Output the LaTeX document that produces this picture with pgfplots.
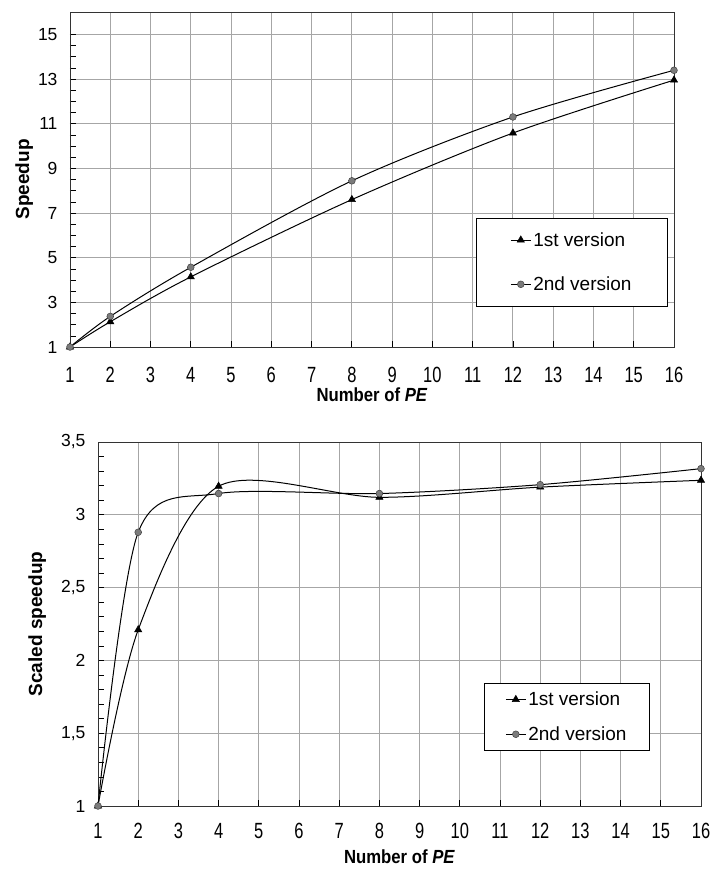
\documentclass[border=0pt]{standalone}
\usepackage{fontspec}
\setmainfont{Liberation Sans}
\newfontfamily\narrowfont{Liberation Sans}[FakeStretch=0.75]
\newfontfamily\labelfont{Liberation Sans}[FakeStretch=0.88]
\usepackage{pgfplots}
\pgfplotsset{compat=1.18}
\begin{document}
\begin{tikzpicture}[x=1pt,y=1pt]
\useasboundingbox (0,0) rectangle (712,870);
\pgfplotsset{
  mybase/.style={
    scale only axis,
    font=\fontsize{19}{22}\selectfont,
    /pgf/number format/assume math mode=true,
    /pgf/number format/use comma,
    xmin=1, xmax=16, xtick={1,...,16},
    xmajorgrids, ymajorgrids,
    grid style={gray!70, line width=0.9pt},
    minor tick style={black, line width=0.6pt},
    major tick style={black, line width=0.8pt},
    major tick length=6pt, minor tick length=6pt,
    tick align=inside,
    xtick pos=left, ytick pos=left,
    axis line style={black!80, line width=0.8pt},
    xticklabel style={font=\narrowfont\fontsize{22}{24}\selectfont, anchor=center},
    yticklabel style={font=\fontsize{17.5}{21}\selectfont, anchor=east, xshift=-9pt},
    xlabel={\labelfont\bfseries Number of \textit{PE}},
    legend cell align=left,
    legend image code/.code={\draw[##1,mark repeat=2,mark phase=2] plot coordinates {(0pt,0pt)(10pt,0pt)(20pt,0pt)};},
  },
  v1/.style={black, line width=1pt, smooth, mark=triangle*, mark size=4.2pt, mark options={fill=black, draw=black, line width=0.5pt}},
  v2/.style={black, line width=1pt, smooth, mark=*, mark size=3.4pt, mark options={fill=gray!85!black!90, draw=black!75, line width=0.5pt}},
}
% top axis
\begin{axis}[mybase,
  at={(70pt,523pt)}, anchor=south west,
  width=604pt, height=335pt,
  ymin=1, ymax=16, ytick={1,3,5,7,9,11,13,15},
  minor y tick num=3,
  xticklabel style={yshift=-28pt},
  xlabel style={at={(axis description cs:0.5,0)}, anchor=center, yshift=-48pt},
  ylabel={\bfseries Speedup},
  ylabel style={at={(axis description cs:-0.076,0.5)}, anchor=center},
  legend style={at={(0.672,0.385)}, anchor=north west, draw=black, line width=0.8pt,
    inner xsep=34pt, inner ysep=12pt, row sep=25pt, font=\fontsize{19}{22}\selectfont},
]
\addplot[v1] coordinates {(1,1) (2,2.13) (4,4.14) (8,7.6) (12,10.58) (16,12.95)};
\addlegendentry{1st version}
\addplot[v2] coordinates {(1,1) (2,2.37) (4,4.57) (8,8.44) (12,11.3) (16,13.39)};
\addlegendentry{2nd version}
\end{axis}
% bottom axis
\begin{axis}[mybase,
  at={(98pt,64pt)}, anchor=south west,
  width=603pt, height=364pt,
  ymin=1, ymax=3.5, ytick={1,1.5,2,2.5,3,3.5},
  yticklabels={1,{1,5},2,{2,5},3,{3,5}},
  minor y tick num=4,
  xticklabel style={yshift=-25pt},
  xlabel style={at={(axis description cs:0.5,0)}, anchor=center, yshift=-51pt},
  ylabel={\bfseries Scaled speedup},
  ylabel style={at={(axis description cs:-0.101,0.5)}, anchor=center},
  legend style={at={(0.640,0.338)}, anchor=north west, draw=black, line width=0.8pt,
    inner xsep=21pt, inner ysep=6.5pt, row sep=15.5pt, font=\fontsize{19}{22}\selectfont},
]
\addplot[v1] coordinates {(1,1) (2,2.21) (4,3.196) (8,3.12) (12,3.19) (16,3.237)};
\addlegendentry{1st version}
\addplot[v2] coordinates {(1,1) (2,2.88) (4,3.146) (8,3.146) (12,3.207) (16,3.317)};
\addlegendentry{2nd version}
\end{axis}
\end{tikzpicture}
\end{document}
